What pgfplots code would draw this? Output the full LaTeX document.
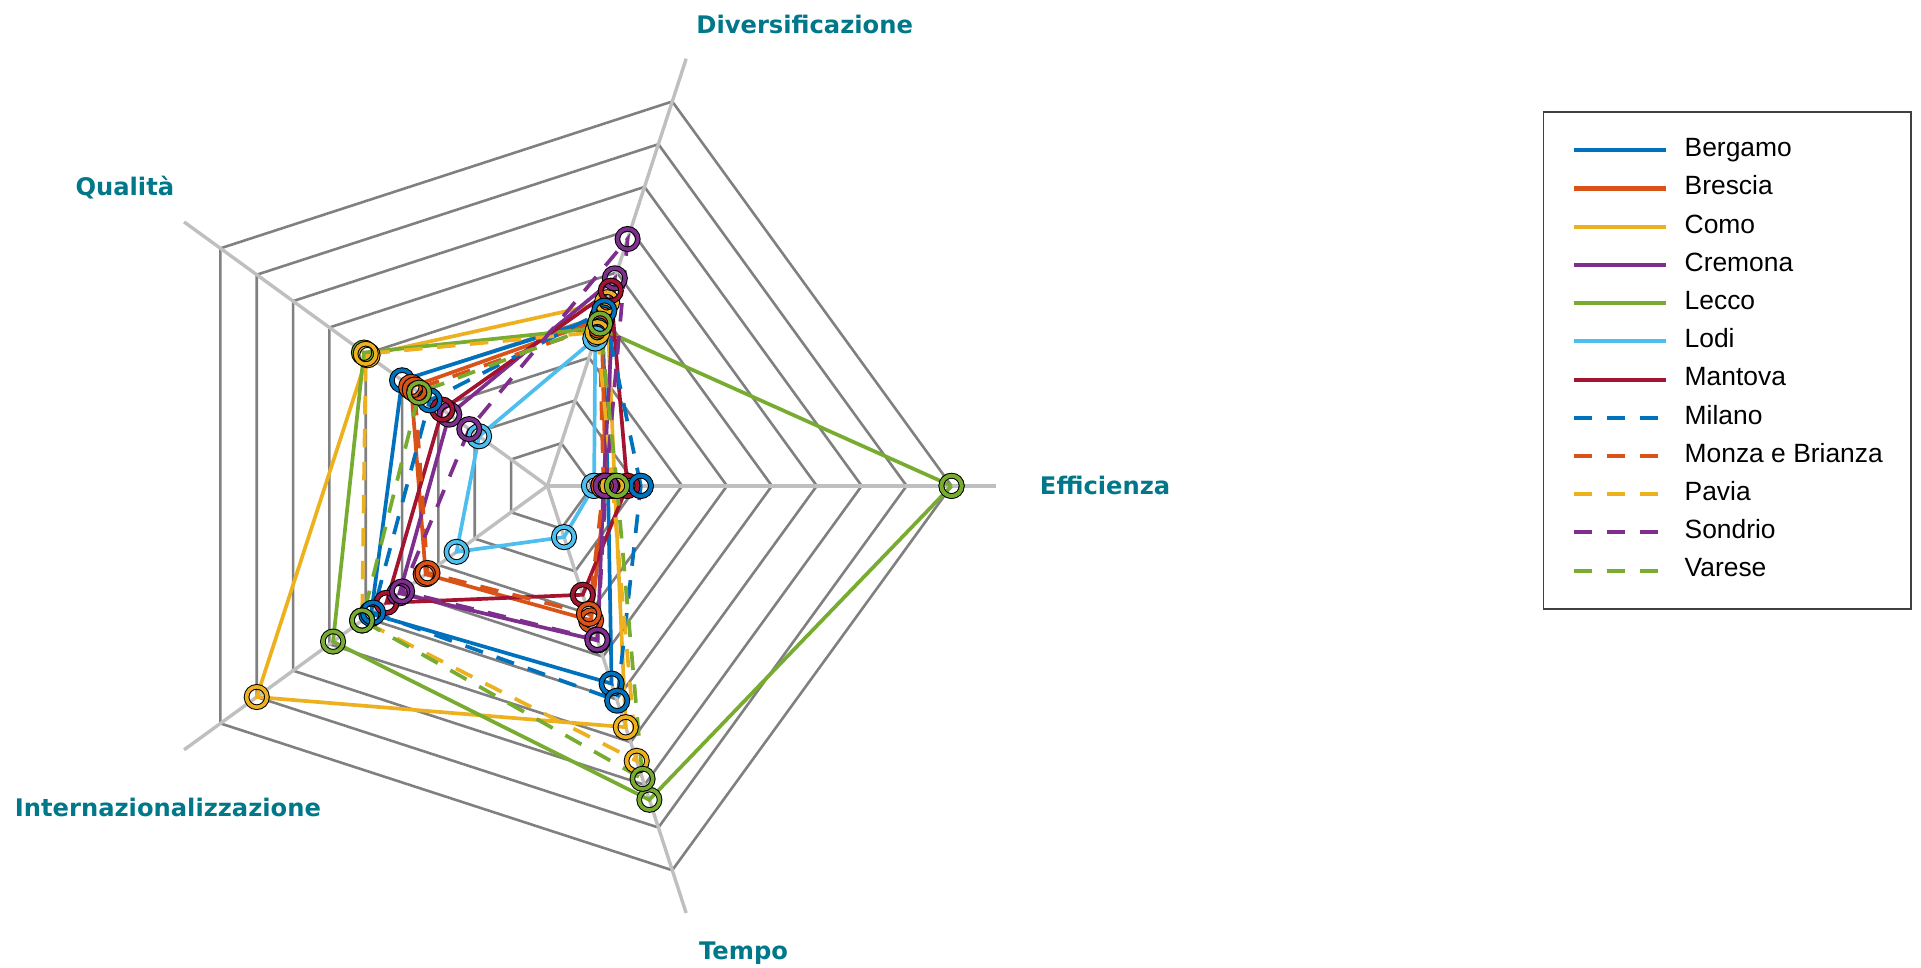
\documentclass[border=0pt]{standalone}
\usepackage{pgfplots}
\pgfplotsset{compat=1.18}
\usepackage{pgfplotstable}
\usepackage{fontspec}
\setmainfont{Liberation Sans}
\newfontfamily\labfont{DejaVu Sans}

\definecolor{c1}{RGB}{0,114,189}
\definecolor{c2}{RGB}{217,83,25}
\definecolor{c3}{RGB}{237,177,32}
\definecolor{c4}{RGB}{126,47,142}
\definecolor{c5}{RGB}{119,172,48}
\definecolor{c6}{RGB}{77,190,238}
\definecolor{c7}{RGB}{162,20,47}
\definecolor{ringgray}{RGB}{128,128,128}
\definecolor{spokegray}{RGB}{191,191,191}
\definecolor{labteal}{RGB}{0,120,138}

% angle of each spoke, value of each province (0 repeated as 360 to close)
\pgfplotstableread{
angle Bergamo Brescia Como Cremona Lecco Lodi Mantova Milano Monza Pavia Sondrio Varese
0     1.35    1.30    1.50 1.25    9.00  1.04 1.78    2.08   1.25  1.45  1.30    1.55
72    3.95    3.90    4.30 4.86    3.70  3.45 4.57    4.10   3.75  3.60  5.78    3.80
144   4.00    3.75    4.95 2.70    5.05  1.88 2.89    3.24   3.65  5.00  2.15    3.53
216   4.85    3.35    8.00 4.07    5.90  2.50 4.43    4.80   3.30  5.10  4.00    5.10
288   4.63    3.15    5.65 3.62    7.35  1.20 2.55    5.03   3.00  6.44  3.60    6.86
360   1.35    1.30    1.50 1.25    9.00  1.04 1.78    2.08   1.25  1.45  1.30    1.55
}\data

\pgfplotsset{
  ring/.style={ringgray, line width=1.3pt, forget plot, data cs=polar},
  spoke/.style={spokegray, line width=1.7pt, forget plot, data cs=polar},
  edge/.style={black, line width=2.8pt, only marks, mark=o, mark size=5.1pt, forget plot, data cs=polar},
  city/.style={line width=1.85pt, mark=o, mark size=5.1pt, mark options={solid, line width=1.8pt}, data cs=polar},
  dashed city/.style={dash pattern=on 9.25pt off 7.25pt},
}
\newcommand{\city}[2]{%
  \addplot[edge] table[x=angle, y=#1] {\data};
  \addplot[city, #2] table[x=angle, y=#1] {\data};
}

\begin{document}
\begin{tikzpicture}
\begin{axis}[
    x=22.45pt, y=22.45pt,
    xmin=-12.19, xmax=30.59,
    ymin=-10.72, ymax=10.82,
    hide axis,
    clip=false,
    legend image code/.code={\draw[#1, mark=none, line width=2pt] (0pt,0pt) -- (46pt,0pt);},
    legend cell align=left,
    legend style={
        at={(axis cs:22.17,8.345)}, anchor=north west,
        draw=black!75, line width=0.75pt,
        inner xsep=14pt, inner ysep=12.8pt,
        row sep=6.3pt,
        font=\fontsize{13.2pt}{15pt}\selectfont,
        nodes={inner sep=0pt, text height=9.6pt, text depth=3.2pt},
        /tikz/every odd column/.append style={column sep=8.5pt},
    },
]
% pentagonal grid
\pgfplotsinvokeforeach{1,...,9}{
  \addplot[ring] coordinates {(0,#1) (72,#1) (144,#1) (216,#1) (288,#1) (360,#1)};
}
\addplot[spoke] coordinates {(0,0) (0,10)};
\addplot[spoke] coordinates {(72,0) (72,10)};
\addplot[spoke] coordinates {(144,0) (144,10)};
\addplot[spoke] coordinates {(216,0) (216,10)};
\addplot[spoke] coordinates {(288,0) (288,10)};

\city{Bergamo}{c1}
\addlegendentry{Bergamo}
\city{Brescia}{c2}
\addlegendentry{Brescia}
\city{Como}{c3}
\addlegendentry{Como}
\city{Cremona}{c4}
\addlegendentry{Cremona}
\city{Lecco}{c5}
\addlegendentry{Lecco}
\city{Lodi}{c6}
\addlegendentry{Lodi}
\city{Mantova}{c7}
\addlegendentry{Mantova}
\city{Milano}{c1, dashed city}
\addlegendentry{Milano}
\city{Monza}{c2, dashed city}
\addlegendentry{Monza e Brianza}
\city{Pavia}{c3, dashed city}
\addlegendentry{Pavia}
\city{Sondrio}{c4, dashed city}
\addlegendentry{Sondrio}
\city{Varese}{c5, dashed city}
\addlegendentry{Varese}

% spoke labels
\begin{scope}[every node/.style={font=\labfont\bfseries\fontsize{12.1pt}{14pt}\selectfont, text=labteal}]
\node at (axis cs:5.73,10.27) {Diversificazione};
\node at (axis cs:-9.41,6.65) {Qualità};
\node at (axis cs:12.42,0) {Efficienza};
\node at (axis cs:-8.45,-7.17) {Internazionalizzazione};
\node at (axis cs:4.37,-10.41) {Tempo};
\end{scope}
\end{axis}
\pgfresetboundingbox
\useasboundingbox (current axis.south west) rectangle (current axis.north east);
\end{tikzpicture}
\end{document}
